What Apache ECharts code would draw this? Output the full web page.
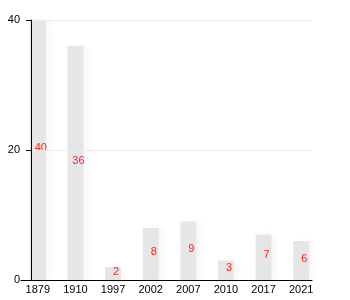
<!DOCTYPE html>
<html><head><meta charset="utf-8">
<script src="https://cdn.jsdelivr.net/npm/echarts@6/dist/echarts.min.js"></script>
<style>html,body{margin:0;padding:0;background:#fff}#c{width:350px;height:300px}</style>
</head><body><div id="c"></div>
<script>
var categories = ['1879','1910','1997','2002','2007','2010','2017','2021'];
var values = [40, 36, 2, 8, 9, 3, 7, 6];
var yTicks = [0, 20, 40];

var chart = echarts.init(document.getElementById('c'));
var font = 'Liberation Sans, Arial, Helvetica, sans-serif';
chart.setOption({
  animation: false,
  grid: [
    {left: 19, right: 30, top: 20, bottom: 20},
    {left: 31, right: 38, top: 20, bottom: 20},
    {left: 21, right: 38, top: 20, bottom: 20}
  ],
  xAxis: [
    {type: 'category', gridIndex: 0, data: categories,
     axisLine: {show: false}, axisTick: {show: false},
     axisLabel: {color: '#000', fontSize: 11, fontFamily: font, margin: 4}},
    {type: 'category', gridIndex: 1, data: categories,
     axisLine: {show: false}, axisTick: {show: false}, axisLabel: {show: false}},
    {type: 'category', gridIndex: 2, data: categories, z: 5,
     axisLine: {show: true, lineStyle: {color: '#000', width: 1}},
     axisTick: {show: false}, axisLabel: {show: false}}
  ],
  yAxis: [
    {type: 'value', gridIndex: 0, min: 0, max: 40, interval: 20, show: false},
    {type: 'value', gridIndex: 1, min: 0, max: 40, interval: 20, z: 5,
     axisLine: {show: true, lineStyle: {color: '#000', width: 1}},
     axisTick: {show: true, length: 5, lineStyle: {color: '#000'}},
     axisLabel: {color: '#000', fontSize: 11, fontFamily: font, margin: 11,
       formatter: function(v){ return yTicks.indexOf(v) >= 0 ? String(v) : ''; }},
     splitLine: {show: true, lineStyle: {color: '#ebebeb', width: 1}}},
    {type: 'value', gridIndex: 2, min: 0, max: 40, interval: 20, show: false}
  ],
  series: [{
    type: 'bar', xAxisIndex: 0, yAxisIndex: 0, data: values,
    barWidth: 16,
    itemStyle: {color: '#e6e6e6', shadowColor: 'rgba(0,0,0,0.04)', shadowBlur: 6, shadowOffsetX: 4},
    label: {show: true, position: 'inside', offset: [3, -2],
      color: '#ff2020', fontSize: 11, fontFamily: font}
  }]
});
</script></body></html>
